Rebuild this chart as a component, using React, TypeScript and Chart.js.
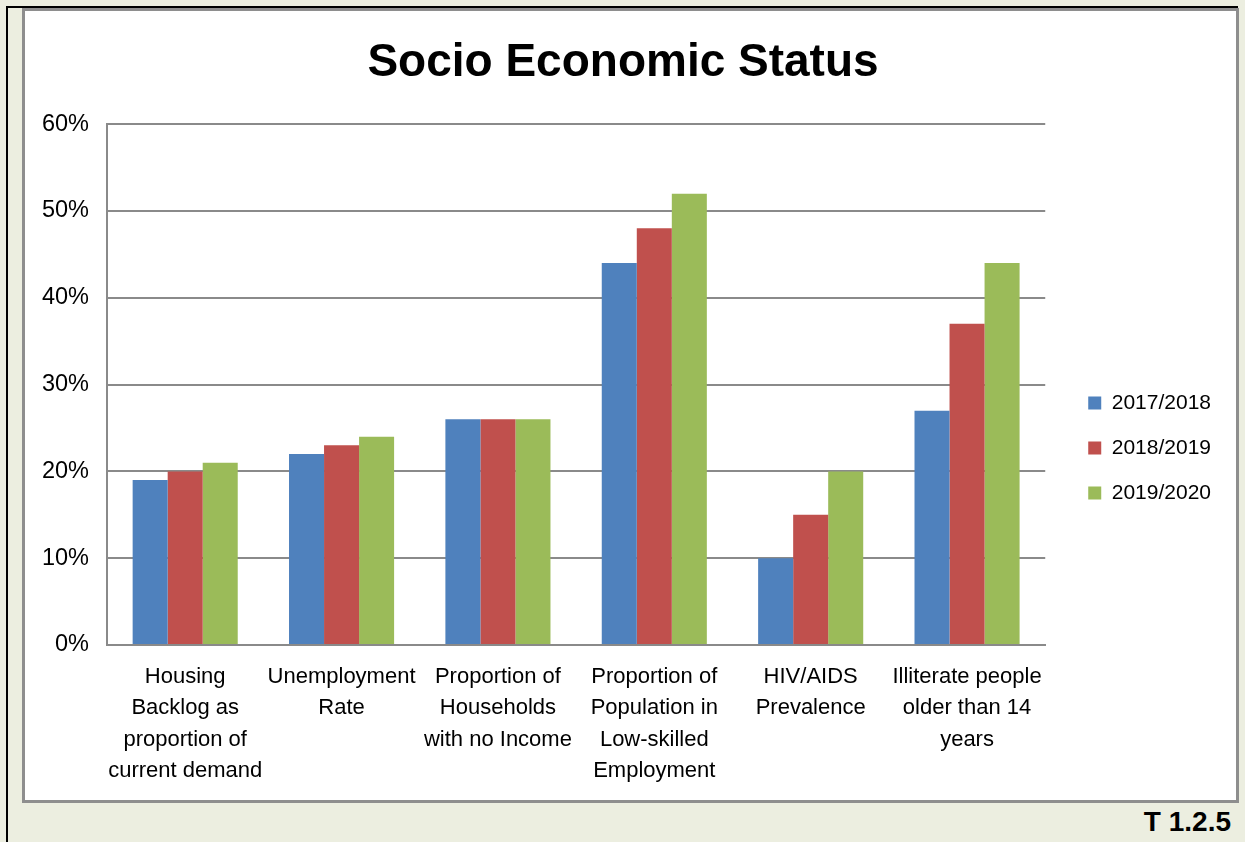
import React, { useEffect, useRef } from "react";
import { Chart, registerables } from "chart.js";

Chart.register(...registerables);

// ---- data ----
const categories: string[][] = [
  ["Housing", "Backlog as", "proportion of", "current demand"],
  ["Unemployment", "Rate"],
  ["Proportion of", "Households", "with no Income"],
  ["Proportion of", "Population in", "Low-skilled", "Employment"],
  ["HIV/AIDS", "Prevalence"],
  ["Illiterate people", "older than 14", "years"],
];
const seriesNames = ["2017/2018", "2018/2019", "2019/2020"];
const values2017 = [19, 22, 26, 44, 10, 27];
const values2018 = [20, 23, 26, 48, 15, 37];
const values2019 = [21, 24, 26, 52, 20, 44];
const seriesColors = ["#4F81BD", "#C0504D", "#9BBB59"];
const yMin = 0;
const yMax = 60;
const yStep = 10;
const chartTitle = "Socio Economic Status";
const footLabel = "T 1.2.5";

const SANS = "'Liberation Sans', Arial, sans-serif";
const GRID = "#8A8A8A";

export default function App() {
  const canvasRef = useRef<HTMLCanvasElement | null>(null);

  useEffect(() => {
    if (!canvasRef.current) return;
    const seriesValues = [values2017, values2018, values2019];
    const chart = new Chart(canvasRef.current, {
      type: "bar",
      data: {
        labels: categories,
        datasets: seriesNames.map((name, i) => ({
          label: name,
          data: seriesValues[i],
          backgroundColor: seriesColors[i],
          borderWidth: 0,
          categoryPercentage: 0.672,
          barPercentage: 1,
        })),
      },
      options: {
        responsive: false,
        maintainAspectRatio: false,
        animation: false,
        layout: { padding: { left: 0, right: 15, top: 0, bottom: 0 } },
        plugins: {
          title: {
            display: true,
            text: chartTitle,
            color: "#000",
            font: { family: SANS, size: 46, weight: "bold", lineHeight: 1.2 },
            padding: { top: 25, bottom: 33 },
          },
          legend: {
            display: true,
            position: "right",
            align: "center",
            title: {
              display: true,
              text: " ",
              font: { size: 10, lineHeight: 1 },
              padding: { top: 75, bottom: 0 },
            },
            labels: {
              boxWidth: 13,
              boxHeight: 13,
              padding: 24,
              color: "#000",
              font: { family: SANS, size: 21 },
            },
          },
          tooltip: { enabled: false },
        },
        scales: {
          x: {
            grid: { display: false, drawTicks: false },
            border: { display: true, color: GRID, width: 2 },
            ticks: {
              autoSkip: false,
              maxRotation: 0,
              minRotation: 0,
              padding: 16,
              color: "#000",
              font: { family: SANS, size: 22, lineHeight: 1.43 },
            },
            afterFit: (s: any) => {
              s.height = 155;
            },
          },
          y: {
            min: yMin,
            max: yMax,
            grid: { color: GRID, lineWidth: 2, drawTicks: false },
            border: { display: true, color: GRID, width: 2 },
            ticks: {
              stepSize: yStep,
              padding: 18,
              color: "#000",
              font: { family: SANS, size: 23.5 },
              callback: (v: any) => `${v}%`,
            },
            afterFit: (s: any) => {
              s.width = 82;
            },
          },
          gap: {
            type: "linear",
            position: "right",
            display: true,
            grid: { display: false, drawTicks: false },
            border: { display: false },
            ticks: { display: false },
            afterFit: (s: any) => {
              s.width = 19;
            },
          },
        },
      } as any,
    });
    return () => chart.destroy();
  }, []);

  return (
    <div
      style={{
        position: "fixed",
        left: 0,
        top: 0,
        width: 1245,
        height: 842,
        background: "#ECEEE0",
        overflow: "hidden",
      }}
    >
      <div
        style={{
          position: "absolute",
          left: 6,
          top: 6,
          width: 1232,
          height: 900,
          borderLeft: "2px solid #000",
          borderTop: "2px solid #000",
          boxSizing: "border-box",
        }}
      />
      <div
        style={{
          position: "absolute",
          left: 22,
          top: 8,
          width: 1217,
          height: 795,
          border: "3px solid #8E8E8E",
          background: "#fff",
          boxSizing: "border-box",
        }}
      >
        <canvas ref={canvasRef} width={1211} height={789} style={{ display: "block", width: 1211, height: 789 }} />
      </div>
      <div
        style={{
          position: "absolute",
          right: 14,
          top: 808,
          fontFamily: SANS,
          fontWeight: "bold",
          fontSize: 28,
          lineHeight: "28px",
          color: "#000",
        }}
      >
        {footLabel}
      </div>
    </div>
  );
}
